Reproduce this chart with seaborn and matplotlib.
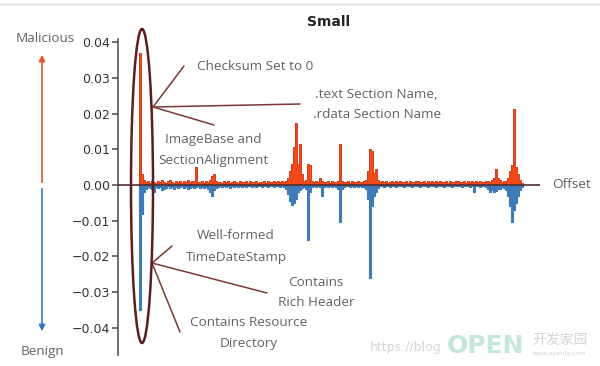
import numpy as np
import pandas as pd
import matplotlib
matplotlib.use("Agg")
import matplotlib.pyplot as plt
import seaborn as sns
from matplotlib.patches import Ellipse, FancyArrowPatch
from matplotlib.lines import Line2D

# ---------------- data (values in units of 1e-4) ----------------
malicious = [
    0, 370, 30, 15, 8, 10, 6, 12, 9, 7, 11,
    8, 13, 9, 6, 10, 14, 8, 7, 12, 9,
    10, 7, 11, 9, 13, 8, 10, 12, 50, 9,
    8, 11, 7, 10, 9, 14, 25, 30, 12, 8,
    9, 7, 10, 8, 11, 6, 9, 12, 8, 7,
    10, 8, 9, 11, 7, 10, 8, 9, 12, 7,
    9, 8, 10, 7, 11, 9, 8, 10, 9, 12,
    8, 10, 9, 12, 20, 40, 60, 107, 174, 60,
    115, 30, 10, 15, 60, 55, 10, 8, 11, 9,
    20, 10, 8, 9, 11, 7, 10, 8, 9, 12,
    115, 10, 8, 9, 11, 7, 10, 9, 8, 12,
    9, 8, 12, 15, 40, 100, 95, 35, 45, 15,
    9, 11, 8, 10, 7, 9, 12, 8, 10, 9,
    11, 8, 9, 10, 7, 12, 9, 8, 10, 11,
    8, 9, 12, 7, 10, 9, 11, 8, 10, 9,
    12, 8, 9, 10, 7, 11, 9, 8, 12, 10,
    9, 8, 11, 7, 10, 9, 12, 8, 10, 9,
    11, 8, 9, 10, 12, 9, 15, 20, 45, 20,
    15, 8, 10, 12, 20, 40, 56, 213, 50, 30,
    15, 5, 0,
]
benign = [
    0, 350, 80, 20, 10, 5, 8, 12, 20, 6, 9,
    5, 15, 12, 7, 4, 9, 6, 10, 5, 8,
    6, 4, 9, 5, 12, 7, 5, 8, 6, 4,
    7, 5, 9, 6, 12, 20, 30, 15, 8, 5,
    4, 6, 3, 5, 4, 7, 3, 5, 4, 6,
    3, 5, 4, 6, 3, 4, 5, 3, 6, 4,
    3, 5, 4, 3, 6, 4, 3, 5, 4, 3,
    5, 4, 6, 10, 25, 45, 56, 50, 40, 20,
    15, 8, 5, 10, 154, 20, 6, 4, 5, 3,
    6, 30, 5, 4, 6, 3, 5, 4, 6, 10,
    104, 10, 5, 4, 3, 5, 4, 6, 3, 5,
    4, 5, 6, 10, 40, 260, 60, 30, 20, 8,
    4, 3, 5, 4, 3, 5, 4, 3, 5, 4,
    3, 4, 5, 3, 4, 3, 5, 4, 3, 4,
    5, 3, 4, 3, 5, 4, 3, 4, 5, 3,
    4, 3, 5, 4, 3, 4, 5, 3, 4, 3,
    4, 5, 3, 4, 3, 5, 4, 20, 4, 3,
    5, 4, 3, 6, 10, 20, 15, 20, 18, 10,
    12, 5, 8, 15, 30, 60, 104, 70, 50, 30,
    15, 5, 0,
]
yticks = [-0.04, -0.03, -0.02, -0.01, 0.00, 0.01, 0.02, 0.03, 0.04]
title = "Small"

offset = np.arange(len(malicious))
df = pd.DataFrame({
    "offset": offset,
    "malicious": np.array(malicious) * 1e-4,
    "benign": -np.array(benign) * 1e-4,
})

RED = "#f04a1a"
BLUE = "#3f7bb8"
TXT = "#626262"
LINE = "#7a3a34"

sns.set_theme(style="white")
plt.rcParams["font.family"] = ["DejaVu Sans", "Noto Sans CJK SC"]

fig = plt.figure(figsize=(6, 3.66), dpi=100)
ax = fig.add_axes([118 / 600, 1 - 355 / 366, (540 - 118) / 600, (355 - 39) / 366])

ax.fill_between(df["offset"], 0, df["benign"], step="mid", color=BLUE, lw=0, zorder=2)
sns.lineplot(data=df, x="offset", y="benign", ax=ax, color=BLUE, lw=0.8,
             drawstyle="steps-mid", zorder=2.5)
ax.fill_between(df["offset"], 0, df["malicious"], step="mid", color=RED, lw=0, zorder=3)
sns.lineplot(data=df, x="offset", y="malicious", ax=ax, color="#d83c18", lw=0.7,
             drawstyle="steps-mid", zorder=4)
ax.axhline(0, color="#4d3030", lw=1.2, zorder=5)

ax.set_xlim(-10, 201)
ax.set_ylim(-0.0476, 0.0409)
ax.set_yticks(yticks)
ax.set_yticklabels([f"{v:.2f}".replace("-", "\u2212") for v in yticks])
ax.set_xticks([])
ax.set_xlabel("")
ax.set_ylabel("")
for s in ["top", "right", "bottom"]:
    ax.spines[s].set_visible(False)
ax.spines["left"].set_color("#555555")
ax.spines["left"].set_linewidth(1.2)
ax.tick_params(axis="y", left=True, length=4, width=1.2, color="#555555",
               labelsize=9, labelcolor="#333333", pad=2)
ax.set_title(title, fontsize=10, fontweight="bold", color="#222222", pad=9)


def P(x, y):
    return (x / 600, 1 - y / 366)


tf = fig.transFigure
ann_font = dict(family="Open Sans", fontsize=9.7, color=TXT, transform=tf)

# ellipse around the first spikes
ell = Ellipse(P(142, 186), 22 / 600, 314 / 366, transform=tf, fill=False,
              edgecolor="#5a1e1e", lw=1.8, zorder=6)
fig.patches.append(ell)

# pointer lines
for (x0, y0), (x1, y1) in [((153, 107), (184, 66)), ((153, 107), (300, 104)),
                           ((153, 107), (214, 125)), ((152, 263), (172, 246)),
                           ((152, 263), (267, 293)), ((152, 263), (180, 332))]:
    a, b = P(x0, y0), P(x1, y1)
    fig.add_artist(Line2D([a[0], b[0]], [a[1], b[1]], transform=tf, color=LINE, lw=1.1))

# annotation texts
fig.text(*P(197, 66), "Checksum Set to 0", ha="left", va="center", **ann_font)
fig.text(*P(315, 95), ".text Section Name,", ha="left", va="center", **ann_font)
fig.text(*P(313, 115), ".rdata Section Name", ha="left", va="center", **ann_font)
fig.text(*P(213, 139), "ImageBase and", ha="center", va="center", **ann_font)
fig.text(*P(213, 160), "SectionAlignment", ha="center", va="center", **ann_font)
fig.text(*P(236, 235), "Well-formed", ha="center", va="center", **ann_font)
fig.text(*P(236, 257), "TimeDateStamp", ha="center", va="center", **ann_font)
fig.text(*P(316, 282), "Contains", ha="center", va="center", **ann_font)
fig.text(*P(316, 303), "Rich Header", ha="center", va="center", **ann_font)
fig.text(*P(249, 323), "Contains Resource", ha="center", va="center", **ann_font)
fig.text(*P(249, 343), "Directory", ha="center", va="center", **ann_font)
fig.text(*P(552, 184), "Offset", ha="left", va="center", **ann_font)

# Malicious / Benign arrows
fig.add_artist(FancyArrowPatch(P(42, 185), P(42, 52), transform=tf, arrowstyle="-|>",
                               mutation_scale=9, color="#e8502a", lw=1.2))
fig.add_artist(FancyArrowPatch(P(42, 186), P(42, 334), transform=tf, arrowstyle="-|>",
                               mutation_scale=9, color="#2f78c0", lw=1.2))
fig.text(*P(45, 39), "Malicious", ha="center", va="center", **ann_font)
fig.text(*P(42, 351), "Benign", ha="center", va="center", **ann_font)

# top frame line
fig.add_artist(Line2D([0, 1], [1 - 4 / 366, 1 - 4 / 366], transform=tf, color="#dddddd", lw=1))

# watermark
fig.text(*P(370, 348), "https://blog", ha="left", va="center", fontsize=9,
         color="#d6d6d6", transform=tf)
fig.text(*P(447, 346), "OPEN", ha="left", va="center", fontsize=18, fontweight="bold",
         color="#c4e6dc", transform=tf, family="DejaVu Sans")
fig.text(*P(532, 340), "开发家园", ha="left", va="center", fontsize=10,
         color="#d4d4d4", transform=tf, family=["Noto Sans CJK SC", "DejaVu Sans"])
fig.text(*P(533, 353), "www.openjg.com", ha="left", va="center", fontsize=4.5,
         color="#d4d4d4", transform=tf)

fig.savefig("out.png", dpi=100, facecolor="white")
